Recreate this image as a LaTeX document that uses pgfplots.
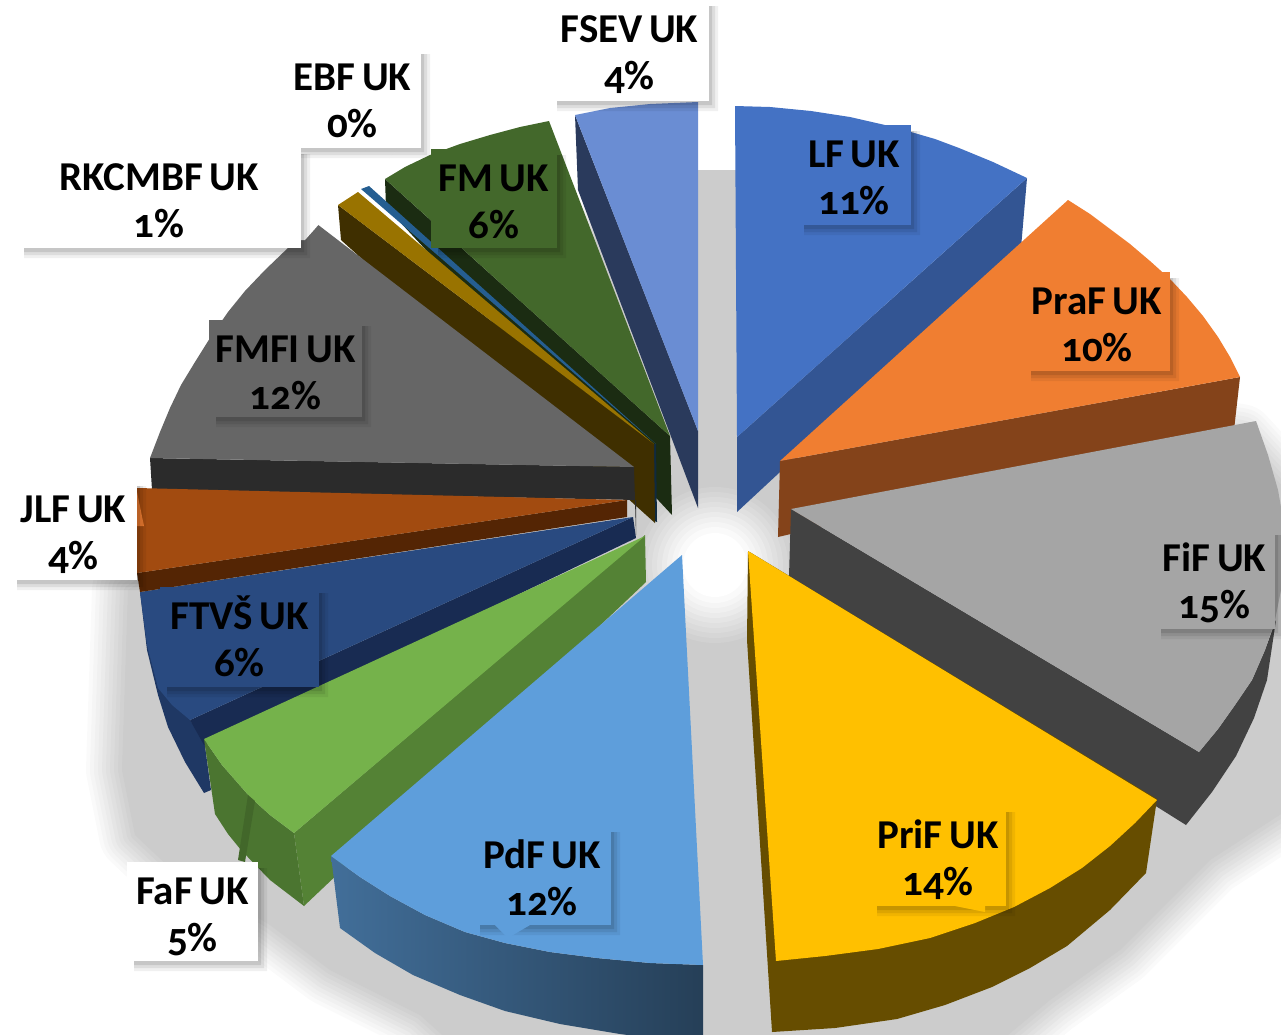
\documentclass[border=0pt]{standalone}
\usepackage{pgfplots}
\usepackage{pgfplotstable}
\usepackage{fontspec}
\setmainfont[Numbers=OldStyle,WordSpace=0.7]{Carlito}
\pgfplotsset{compat=1.18}
\pgfplotstableread{
x y
699 170
735 170
800 300
1000 400
1240 440
1295 500
1295 805
1210 860
1180 890
1120 950
1050 1000
990 1050
470 1060
420 1015
330 970
270 925
230 900
170 868
135 835
122 770
128 590
300 480
500 300
699 170
}\shadowtab
\newcommand\poly[2]{\addplot[fill=#1,draw=none] coordinates {#2} --cycle;}
\newcommand\lab[7]{%
 \fill[black,opacity=.06] (axis cs:#3,{#2+6}) -- (axis cs:{#3+9},{#2+6}) -- (axis cs:{#3+9},{#4+10}) -- (axis cs:{#1+7},{#4+10}) -- (axis cs:{#1+7},#4) -- (axis cs:#3,#4) -- cycle;
 \fill[black,opacity=.08] (axis cs:#3,{#2+6}) -- (axis cs:{#3+6},{#2+6}) -- (axis cs:{#3+6},{#4+7}) -- (axis cs:{#1+7},{#4+7}) -- (axis cs:{#1+7},#4) -- (axis cs:#3,#4) -- cycle;
 \fill[black,opacity=.10] (axis cs:#3,{#2+6}) -- (axis cs:{#3+3},{#2+6}) -- (axis cs:{#3+3},{#4+4}) -- (axis cs:{#1+7},{#4+4}) -- (axis cs:{#1+7},#4) -- (axis cs:#3,#4) -- cycle;
 \fill[#5] (axis cs:#1,#2) rectangle (axis cs:#3,#4);
 \node[anchor=base,inner sep=0pt,font=\fontsize{41}{41}\selectfont\bfseries] at (axis cs:{0.5*(#1+#3)},{#2+42}) {#6};
 \node[anchor=base,inner sep=0pt,font=\fontsize{41}{41}\selectfont\bfseries] at (axis cs:{0.5*(#1+#3)},{#2+89}) {#7};
}
\definecolor{lf}{HTML}{4472C4}\definecolor{lfs}{HTML}{335593}
\definecolor{pra}{HTML}{F07E31}\definecolor{pras}{HTML}{84431A}
\definecolor{fif}{HTML}{A5A5A5}\definecolor{fifs}{HTML}{424242}
\definecolor{pri}{HTML}{FFC000}\definecolor{pris}{HTML}{664D00}
\definecolor{pdf}{HTML}{5E9EDB}
\definecolor{faf}{HTML}{75B24B}\definecolor{fafs}{HTML}{548235}\definecolor{fafd}{HTML}{4B7530}
\definecolor{ftv}{HTML}{294A80}\definecolor{ftvs}{HTML}{182B52}\definecolor{ftvo}{HTML}{1F3864}
\definecolor{jlf}{HTML}{A24B10}\definecolor{jlfs}{HTML}{542504}
\definecolor{fmf}{HTML}{666666}\definecolor{fmfs}{HTML}{2B2B2B}
\definecolor{rkc}{HTML}{997300}\definecolor{rkcs}{HTML}{3F2F00}
\definecolor{ebf}{HTML}{255E91}\definecolor{ebfs}{HTML}{0F2A40}
\definecolor{fm}{HTML}{43682B}\definecolor{fms}{HTML}{1B2C12}
\definecolor{fse}{HTML}{6A8DD3}\definecolor{fses}{HTML}{2A3A5C}
\begin{document}
\begin{tikzpicture}
\begin{axis}[width=1281pt,height=1034pt,scale only axis,axis lines=none,
 xmin=0,xmax=1281,ymin=0,ymax=1034,y dir=reverse,clip=true]
% soft cast shadow
\addplot[draw=black!2,line width=72pt,line join=round,fill=none] table {\shadowtab} --cycle;
\addplot[draw=black!4,line width=64pt,line join=round,fill=none] table {\shadowtab} --cycle;
\addplot[draw=black!6,line width=56pt,line join=round,fill=none] table {\shadowtab} --cycle;
\addplot[draw=black!8,line width=48pt,line join=round,fill=none] table {\shadowtab} --cycle;
\addplot[draw=black!10,line width=40pt,line join=round,fill=none] table {\shadowtab} --cycle;
\addplot[draw=black!12,line width=32pt,line join=round,fill=none] table {\shadowtab} --cycle;
\addplot[draw=black!14,line width=24pt,line join=round,fill=none] table {\shadowtab} --cycle;
\addplot[draw=black!16,line width=16pt,line join=round,fill=none] table {\shadowtab} --cycle;
\addplot[draw=black!18,line width=8pt,line join=round,fill=none] table {\shadowtab} --cycle;
\addplot[fill=black!20,draw=none] table {\shadowtab} --cycle;
\fill[white] (axis cs:690,0) rectangle (axis cs:740,170);
% light centre
\fill[black!18] (axis cs:715,565) circle (78pt);
\fill[black!16] (axis cs:715,565) circle (73pt);
\fill[black!14] (axis cs:715,565) circle (68pt);
\fill[black!12] (axis cs:715,565) circle (63pt);
\fill[black!10] (axis cs:715,565) circle (58pt);
\fill[black!8] (axis cs:715,565) circle (53pt);
\fill[black!6] (axis cs:715,565) circle (48pt);
\fill[black!4] (axis cs:715,565) circle (43pt);
\fill[black!2] (axis cs:715,565) circle (38pt);
\fill[white] (axis cs:715,565) circle (32pt);
% FSEV
\poly{fses}{(575,115)(578,190)(698,508)(698,431)}
\poly{fse}{(575,115)(610,108)(650,104)(698,102)(698,431)}
% FM
\poly{fms}{(385,179)(386,207)(672,515)(670,436)}
\poly{fm}{(385,179)(405,167)(430,155)(460,144)(490,135)(520,127)(549,121)(670,436)}
% EBF
\poly{ebfs}{(656,444)(657,522)(652,520)(652,444)}
\poly{ebf}{(361,189)(369,186)(656,444)}
% RKCMBF
\poly{rkcs}{(338,205)(341,240)(655,523)(654,444)}
\poly{rkc}{(338,205)(358,192)(654,444)}
% FMFI
\poly{fmfs}{(150,458)(152,490)(636,500)(636,535)(634,467)}
\poly{fmf}{(317,224)(290,246)(265,270)(245,291)(228,312)(210,338)(195,362)(181,385)(170,408)(160,432)(150,458)(634,467)}
% FTVS
\poly{ftvo}{(140,592)(147,650)(158,695)(168,727)(185,762)(204,793)(211,790)(204,739)(190,720)}
\poly{ftvs}{(633,517)(636,538)(204,745)(190,720)}
\poly{ftv}{(633,517)(140,592)(147,645)(158,688)(172,705)(190,720)}
% JLF
\poly{jlfs}{(137,573)(627,500)(627,517)(140,592)}
\poly{jlf}{(137,488)(627,500)(137,573)(135,530)}
% LF
\poly{lfs}{(1027,178)(1021,248)(737,512)(737,437)}
\poly{lf}{(735,106)(770,107)(811,111)(850,117)(885,125)(911,132)(935,139)(959,148)(993,162)(1027,178)(737,437)}
% PraF
\poly{pras}{(1240,377)(1234,430)(778,537)(780,461)}
\poly{pra}{(1068,200)(1090,214)(1110,229)(1130,244)(1150,261)(1170,279)(1187,297)(1203,316)(1218,337)(1230,357)(1240,377)(780,461)}
% FiF
\poly{fifs}{(791,509)(789,576)(1186,825)(1212,792)(1236,756)(1254,718)(1267,680)(1276,620)(1265,650)(1252,680)(1235,705)(1218,729)(1199,752)}
\poly{fif}{(1256,421)(1268,455)(1278,490)(1285,530)(1284,575)(1275,620)(1265,650)(1252,680)(1235,705)(1218,729)(1199,752)(791,509)}
% PriF
\poly{pris}{(748,551)(747,640)(772,1032)(835,1028)(897,1019)(945,1005)(992,987)(1030,968)(1067,946)(1110,910)(1146,873)(1157,799)}
\poly{pri}{(748,551)(1157,800)(1135,823)(1110,846)(1082,868)(1050,888)(1014,907)(975,923)(930,938)(878,949)(825,956)(776,961)}
% FaF
\poly{fafd}{(204,739)(215,814)(228,834)(241,850)(270,880)(304,906)(294,833)(270,815)(250,797)(222,765)}
\poly{fafs}{(645,535)(646,582)(304,906)(294,833)}
\poly{faf}{(645,536)(204,739)(222,765)(250,797)(270,815)(294,833)}
\poly{black!12!fafd}{(248,795)(255,801)(245,862)(238,860)}
% PdF
\addplot[left color=pdf!70!black,right color=pdf!40!black,draw=none] coordinates {(331,856)(340,928)(375,953)(413,975)(460,995)(505,1011)(560,1024)(620,1034)(703,1045)(703,965)(650,963)(597,958)(550,952)(505,943)(465,932)(425,915)(390,896)(360,877)} --cycle;
\poly{pdf}{(682,555)(703,965)(650,963)(597,958)(550,952)(505,943)(465,932)(425,915)(390,896)(360,877)(331,856)}
% labels
\lab{550}{0}{709}{101}{white}{FSEV UK}{4\%}
\fill[white] (axis cs:365,148) -- (axis cs:371,186) -- (axis cs:397,148) -- cycle;
\lab{284}{48}{421}{148}{white}{EBF UK}{0\%}
\fill[white] (axis cs:301,205) -- (axis cs:336,205) -- (axis cs:305,240) -- (axis cs:301,240) -- cycle;
\lab{17}{148}{301}{248}{white}{RKCMBF UK}{1\%}
\lab{431}{149}{557}{248}{fm}{FM UK}{6\%}
\lab{797}{125}{911}{225}{lf}{LF UK}{11\%}
\lab{1024}{272}{1170}{371}{pra}{PraF UK}{10\%}
\lab{1154}{529}{1275}{629}{fif}{FiF UK}{15\%}
\lab{870}{806}{1006}{906}{pri}{PriF UK}{14\%}
\fill[pri] (axis cs:950,905) -- (axis cs:985,912) -- (axis cs:985,905) -- cycle;
\lab{473}{826}{611}{925}{pdf}{PdF UK}{12\%}
\fill[pdf] (axis cs:495,925) -- (axis cs:508,938) -- (axis cs:530,925) -- cycle;
\lab{209}{320}{362}{417}{fmf}{FMFI UK}{12\%}
\lab{160}{587}{319}{687}{ftv}{FTVŠ UK}{6\%}
\fill[pra] (axis cs:137,492) -- (axis cs:144,526) -- (axis cs:137,526) -- cycle;
\lab{10}{480}{137}{580}{white}{JLF UK}{4\%}
\lab{127}{862}{258}{961}{white}{FaF UK}{5\%}
\end{axis}
\pgfresetboundingbox
\path[use as bounding box] (0,0) rectangle (1281pt,1034pt);
\end{tikzpicture}
\end{document}
